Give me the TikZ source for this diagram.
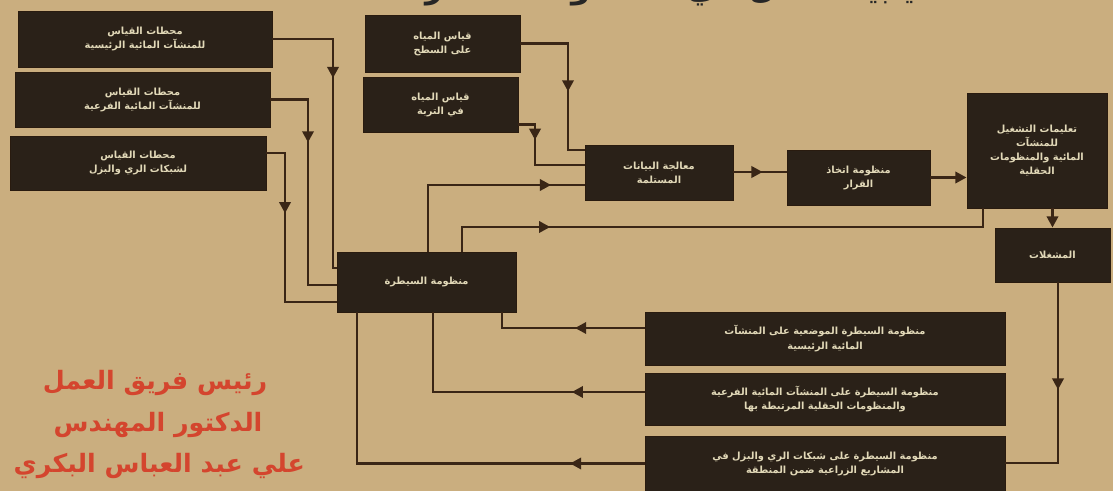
\documentclass[tikz,border=0pt]{standalone}
\usepackage{fontspec}
\usepackage{xcolor}
\usepackage{tikz}
\usetikzlibrary{arrows.meta, decorations.markings, calc}
\TeXXeTstate=1
\newfontfamily\arabicfont[Script=Arabic]{DejaVu Sans}
\definecolor{poster}{HTML}{CAAE7F}
\definecolor{panel}{HTML}{2A2118}
\definecolor{ink}{HTML}{3A2616}
\definecolor{chalk}{HTML}{E2D9B8}
\definecolor{signred}{HTML}{D4452E}
\newcommand{\ar}[1]{{\arabicfont\beginR #1\endR}}

\begin{document}
\begin{tikzpicture}[
    x=0.025cm, y=-0.025cm,
    box/.style={draw=ink!70!black, line width=0.6pt, fill=panel, text=chalk, align=center, inner sep=2pt, font=\fontsize{7}{10}\selectfont\bfseries},
    link/.style={draw=ink, line width=2pt, line join=miter},
    midtip/.style={postaction={decorate}, decoration={markings, mark=at position #1 with {\arrow{Triangle[length=2.8mm, width=2.8mm]}}}},
    tipend/.style={-{Triangle[length=2.8mm, width=2.8mm]}},
    sign/.style={text=signred, font=\fontsize{18}{20}\selectfont\bfseries},
  ]
  \useasboundingbox (0,0) rectangle (1113,491);
  \fill[poster] (0,0) rectangle (1113,491);
  \clip (0,0) rectangle (1113,491);
  % ---- title, cut by the top edge
  \node[font=\fontsize{22}{24}\selectfont\bfseries, text=black!85] (title) at (735,-9) {\ar{مخطط انسيابية العمل في المنظومة المقترحة}};
  % ---- measuring boxes, left
  \node[box, minimum width=6.35cm, minimum height=1.4cm] (L1) at (145,39) {\ar{محطات القياس}\\ \ar{للمنشآت المائية الرئيسية}};
  \node[box, minimum width=6.375cm, minimum height=1.375cm] (L2) at (142.5,99.5) {\ar{محطات القياس}\\ \ar{للمنشآت المائية الفرعية}};
  \node[box, minimum width=6.4cm, minimum height=1.35cm] (L3) at (138,163) {\ar{محطات القياس}\\ \ar{لشبكات الري والبزل}};
  % ---- measuring boxes, middle
  \node[box, minimum width=3.875cm, minimum height=1.425cm] (M1) at (442.5,43.5) {\ar{قياس المياه}\\ \ar{على السطح}};
  \node[box, minimum width=3.875cm, minimum height=1.375cm] (M2) at (440.5,104.5) {\ar{قياس المياه}\\ \ar{في التربة}};
  % ---- processing row
  \node[box, minimum width=3.7cm, minimum height=1.375cm] (A) at (659,172.5) {\ar{معالجة البيانات}\\ \ar{المستلمة}};
  \node[box, minimum width=3.575cm, minimum height=1.375cm] (B) at (858.5,177.5) {\ar{منظومة اتخاذ}\\ \ar{القرار}};
  \node[box, minimum width=3.5cm, minimum height=2.875cm] (R) at (1037,150.5) {\ar{تعليمات التشغيل}\\ \ar{للمنشآت}\\ \ar{المائية والمنظومات}\\ \ar{الحقلية}};
  \node[box, minimum width=2.875cm, minimum height=1.35cm] (S) at (1052.5,255) {\ar{المشغلات}};
  % ---- control
  \node[box, minimum width=4.475cm, minimum height=1.5cm] (C) at (426.5,282) {\ar{منظومة السيطرة}};
  \node[box, minimum width=9cm, minimum height=1.325cm] (D1) at (825,338.5) {\ar{منظومة السيطرة الموضعية على المنشآت}\\ \ar{المائية الرئيسية}};
  \node[box, minimum width=9cm, minimum height=1.3cm] (D2) at (825,399) {\ar{منظومة السيطرة على المنشآت المائية الفرعية}\\ \ar{والمنظومات الحقلية المرتبطة بها}};
  \node[box, minimum width=9cm, minimum height=1.375cm] (D3) at (825,463.5) {\ar{منظومة السيطرة على شبكات الري والبزل في}\\ \ar{المشاريع الزراعية ضمن المنطقة}};
  % ---- corners
  \coordinate (k1) at (333,268);
  \coordinate (k2) at (308,285);
  \coordinate (k3) at (285,302);
  \coordinate (k4) at (568,150);
  \coordinate (k5) at (535,165);
  \coordinate (k6) at (428,185);
  \coordinate (k7) at (983,227);
  \coordinate (k8) at (1058,463);
  % ---- arrows into the control box
  \draw[link, midtip=0.34] (L1.east) -| (k1) -- (C.west |- k1);
  \draw[link, midtip=0.32] (L2.east) -| (k2) -- (C.west |- k2);
  \draw[link, midtip=0.36] ([yshift=0.25cm]L3.east) -| (k3) -- (C.west |- k3);
  \draw[link, midtip=0.44] (D1.west |- 0,328) -| (C.south -| 502,0);
  \draw[link, midtip=0.25] (D2.west |- 0,392) -| (C.south -| 433,0);
  \draw[link, midtip=0.17] (D3.west) -| (C.south -| 357,0);
  % ---- arrows into the processing row
  \draw[link, midtip=0.56] (M1.east) -| (k4) -- (A.west |- k4);
  \draw[link, midtip=0.3] ([yshift=-0.5cm]M2.east) -| (k5) -- (A.west |- k5);
  \draw[link, midtip=0.85] (C.north -| k6) -- (k6) -- (A.west |- k6);
  \draw[link, midtip=0.2] (C.north -| 462,0) |- (k7) -- (R.south -| k7);
  \draw[link, midtip=0.55] (A.east |- 0,172) -- (B.west |- 0,172);
  \draw[link, tipend] (B.east) -- (R.west |- B.east);
  \draw[link, tipend] (R.south -| S.north) -- (S.north);
  \draw[link, midtip=0.46] (S.south -| k8) -- (k8) -- (D3.east |- k8);
  % ---- team leader
  \node[sign] (lead1) at (155,383) {\ar{رئيس فريق العمل}};
  \node[sign] (lead2) at (158,425) {\ar{الدكتور المهندس}};
  \node[sign, anchor=east] (lead3) at (310,466) {\ar{علي عبد العباس البكري}};
\end{tikzpicture}
\end{document}
